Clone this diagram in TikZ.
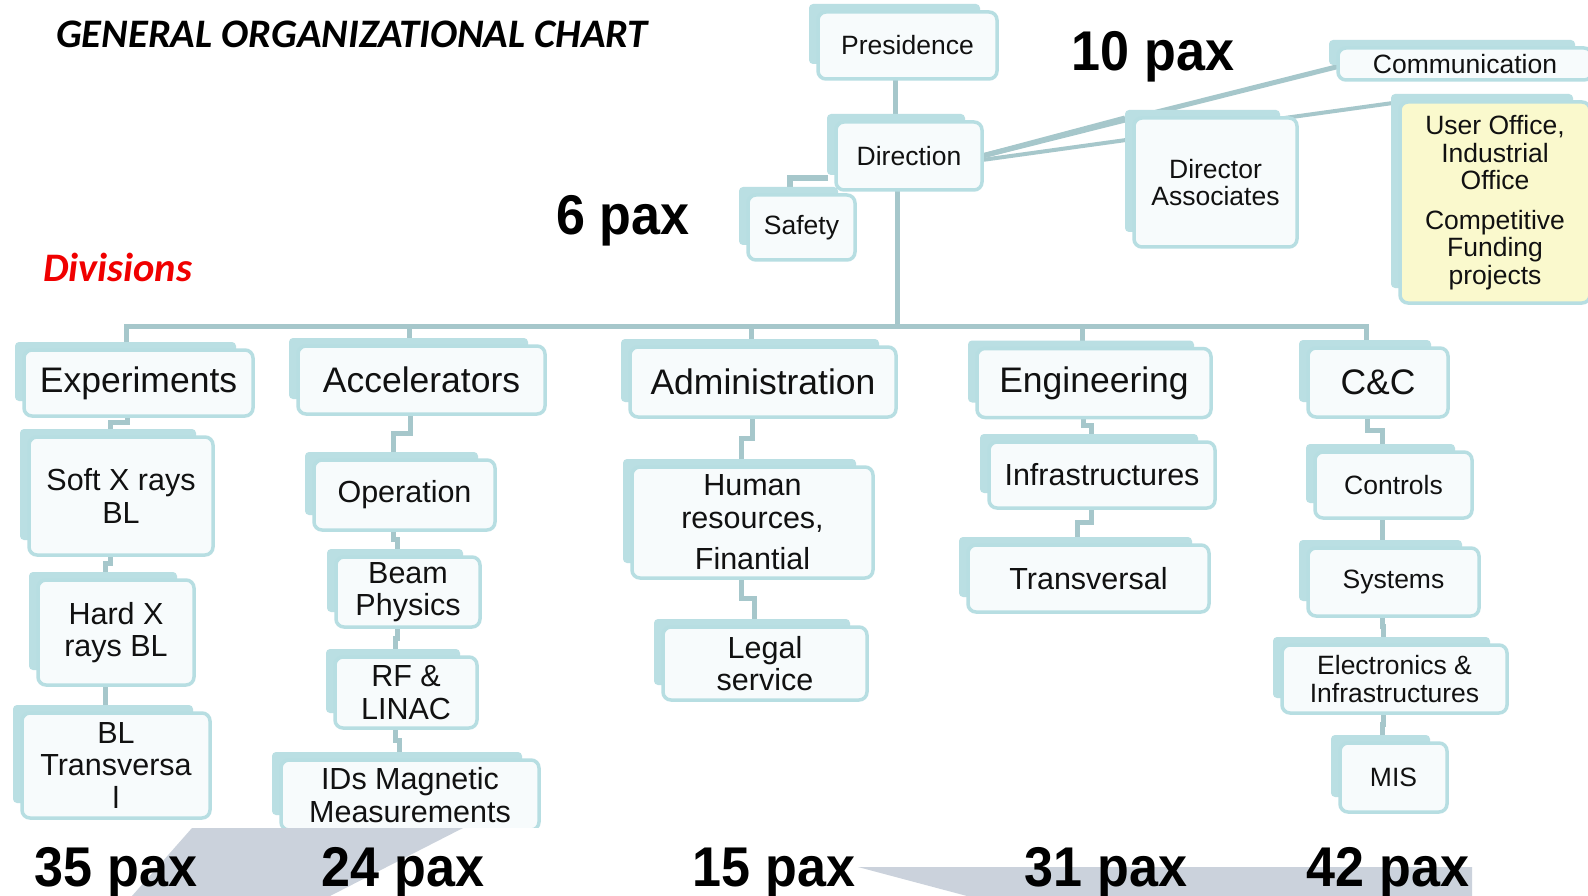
\documentclass[tikz,border=0pt]{standalone}
\usepackage{fontspec}
\usepackage{graphicx}
\setmainfont{Liberation Sans}
\newfontfamily\calfont{Carlito}
\usetikzlibrary{calc}

\definecolor{tealedge}{RGB}{183,222,226}
\definecolor{tealback}{RGB}{186,223,227}
\definecolor{linkcol}{RGB}{166,199,203}
\definecolor{boxfill}{RGB}{247,251,252}
\definecolor{notefill}{RGB}{250,249,205}
\definecolor{bandgrey}{RGB}{203,210,220}
\definecolor{inkcol}{RGB}{17,17,17}
\definecolor{divred}{RGB}{240,0,0}

\pgfdeclarelayer{canvas}
\pgfdeclarelayer{links}
\pgfdeclarelayer{backs}
\pgfdeclarelayer{cover}
\pgfdeclarelayer{labels}
\pgfsetlayers{canvas,links,backs,main,cover,labels}

\tikzset{
  orgfront/.style={draw=tealedge, line width=3.5, fill=boxfill, rounded corners=8,
    inner sep=0, outer sep=0, align=center, text=inkcol},
  big/.style={font=\fontsize{35.5}{40}\selectfont},
  mid/.style={font=\fontsize{30.5}{32.5}\selectfont},
  small/.style={font=\fontsize{26.5}{27.5}\selectfont},
  link/.style={draw=linkcol, line width=5},
  pax/.style={font=\bfseries\fontsize{56}{60}\selectfont, anchor=base, text=black, inner sep=0},
}

% front card plus the offset card behind it
\newcommand\orgbox[6][]{%
  \node[orgfront, minimum width=#4, minimum height=#5, #1] (#2) at #3 {#6};
  \begin{pgfonlayer}{backs}
    \fill[tealback, rounded corners=4] ([shift={(-9,-8)}]#2.north west)
      rectangle ([shift={(-17,-15)}]#2.south east);
  \end{pgfonlayer}}

% elbow connector from one card down to the next
\newcommand\vlink[2]{%
  \begin{pgfonlayer}{links}
  \draw[link] ([xshift=-11]#1.south)
    |- ($([xshift=-11]#1.south)!0.5!([shift={(-11,-8)}]#2.north)$)
    -| ([xshift=-11]#2.north);
  \end{pgfonlayer}}

\begin{document}
\begin{tikzpicture}[x=1pt,y=-1pt]
\useasboundingbox (0,0) rectangle (1588,896);
\begin{pgfonlayer}{canvas}
  \fill[white] (0,0) rectangle (1588,896);
\end{pgfonlayer}

% management
\orgbox[small]{pres}{(907.5,45.5)}{179}{67}{Presidence}
\orgbox[small]{dir}{(909,156)}{146}{68}{Direction}
\orgbox[small]{safety}{(801.5,227.5)}{107}{65}{Safety}
\orgbox[small]{da}{(1215.5,182.5)}{163}{129}{Director\\Associates}
\orgbox[small]{comm}{(1465,64)}{254}{32}{Communication}
\orgbox[small, fill=notefill]{uo}{(1495,202.5)}{190}{201}{User Office,\\Industrial\\Office\\[12pt]Competitive\\Funding\\projects}

% divisions
\orgbox[big]{exp}{(138.5,383)}{229}{66}{Experiments}
\orgbox[big]{acc}{(421.5,380)}{247}{68}{Accelerators}
\orgbox[big]{adm}{(763,382)}{266}{70}{Administration}
\orgbox[big]{eng}{(1094,383)}{234}{69}{Engineering}
\orgbox[big]{cc}{(1378,382.5)}{140}{69}{C\&C}

% units
\orgbox[mid]{soft}{(121,496)}{184}{118}{Soft X rays\\BL}
\orgbox[mid]{hard}{(116,632.5)}{156}{105}{Hard X\\rays BL}
\orgbox[mid]{bltr}{(116,765.5)}{188}{105}{BL\\Transversa\\l}
\orgbox[mid]{op}{(404.5,495)}{181}{70}{Operation}
\orgbox[mid]{beam}{(408,592)}{144}{70}{Beam\\Physics}
\orgbox[mid]{rf}{(406,692.5)}{142}{71}{RF \&\\LINAC}
\orgbox[mid]{ids}{(410,795)}{258}{70}{IDs Magnetic\\Measurements}
\orgbox[mid]{hr}{(752.5,522.5)}{241}{111}{Human\\resources,\\[9pt]Finantial}
\orgbox[mid]{legal}{(765,663.5)}{204}{73}{Legal\\service}
\orgbox[mid]{infra}{(1102,475)}{226}{66}{Infrastructures}
\orgbox[mid]{trans}{(1088.5,578.5)}{241}{67}{Transversal}
\orgbox[small]{ctrl}{(1393.5,485)}{157}{66}{Controls}
\orgbox[small]{sys}{(1393.5,582)}{171}{68}{Systems}
\orgbox[small]{elec}{(1394.5,679)}{225}{68}{Electronics \&\\Infrastructures}
\orgbox[small]{mis}{(1393.5,777.5)}{107}{69}{MIS}

% trunk, bus and side links
\begin{pgfonlayer}{links}
  \path ([xshift=-12]pres.south) coordinate (prestop);
  \draw[link] (prestop) -- (prestop |- dir.north);
  \path ([xshift=-12]dir.south) coordinate (trunktop);
  \coordinate (busmid) at (trunktop |- 0,326);
  \draw[link] (trunktop) -- (busmid);
  \foreach \d in {exp,acc,adm,eng,cc}
    \draw[link] (busmid) -| ([xshift=-12]\d.north);
  \draw[link, line width=6] ([shift={(-8,-12)}]dir.south west) -| ([xshift=-12]safety.north);
  \draw[link] (dir.east) -- ([xshift=10]comm.west);
  \draw[link] (dir.east) -- ([xshift=-9]da.north west);
  \draw[link, line width=4] ([yshift=-4]dir.east) -- (uo.north west);
\end{pgfonlayer}

\vlink{exp}{soft}
\vlink{soft}{hard}
\vlink{hard}{bltr}
\vlink{acc}{op}
\vlink{op}{beam}
\vlink{beam}{rf}
\vlink{rf}{ids}
\vlink{adm}{hr}
\vlink{hr}{legal}
\vlink{eng}{infra}
\vlink{infra}{trans}
\vlink{cc}{ctrl}
\vlink{ctrl}{sys}
\vlink{sys}{elec}
\vlink{elec}{mis}

% grey band along the bottom edge
\begin{pgfonlayer}{cover}
  \fill[white] (265,828) rectangle (552,896);
  \fill[bandgrey] (132,896) -- (192,828) -- (463,828) -- (330,896) -- cycle;
  \fill[bandgrey] (858,867) -- (1472,867) -- (1472,896) -- (967,896) -- cycle;
\end{pgfonlayer}

% headings and head counts
\begin{pgfonlayer}{labels}
  \node[anchor=base west, inner sep=0, font=\calfont\bfseries\itshape\fontsize{40.5}{44}\selectfont]
    (title) at (56,48) {GENERAL ORGANIZATIONAL CHART};
  \node[anchor=base west, inner sep=0, text=divred, font=\calfont\bfseries\itshape\fontsize{40.5}{44}\selectfont]
    (divs) at (43,281) {Divisions};
  \node[pax] (p6) at (623,235) {\scalebox{0.93}[1]{6 pax}};
  \node[pax] (p10) at (1153,71) {\scalebox{0.93}[1]{10 pax}};
  \node[pax] (p35) at (116,886) {\scalebox{0.93}[1]{35 pax}};
  \node[pax] (p24) at (403,886) {\scalebox{0.93}[1]{24 pax}};
  \node[pax] (p15) at (774,886) {\scalebox{0.93}[1]{15 pax}};
  \node[pax] (p31) at (1106,886) {\scalebox{0.93}[1]{31 pax}};
  \node[pax] (p42) at (1388,886) {\scalebox{0.93}[1]{42 pax}};
\end{pgfonlayer}
\end{tikzpicture}
\end{document}
